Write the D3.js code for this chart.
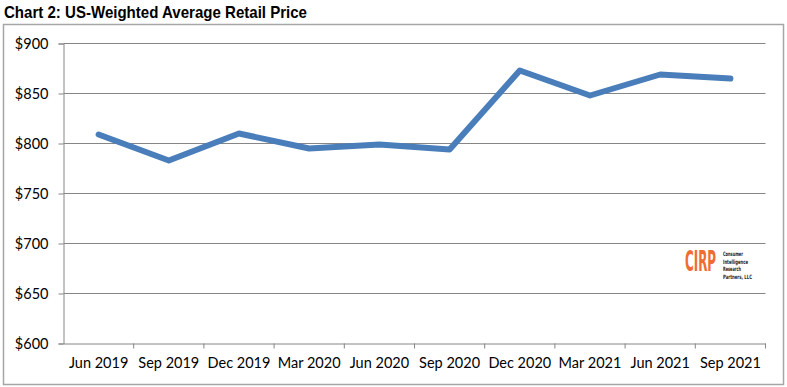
<!DOCTYPE html>
<html>
<head>
<meta charset="utf-8">
<script src="https://cdn.jsdelivr.net/npm/d3@7"></script>
<style>
  body { margin: 0; background: #fff; }
  svg { display: block; }
</style>
</head>
<body>
<div id="chart"></div>
<script>
// Data
const quarters = ["Jun 2019", "Sep 2019", "Dec 2019", "Mar 2020", "Jun 2020",
  "Sep 2020", "Dec 2020", "Mar 2021", "Jun 2021", "Sep 2021"];
const avgPrice = [809, 783, 810, 795, 799, 794, 873, 848, 869, 865];
const priceTicks = [600, 650, 700, 750, 800, 850, 900];

const width = 787, height = 387;
const margin = { left: 63.5, top: 43.5, right: 21.5, bottom: 43.5 };

const chart = d3.select("#chart").append("svg")
  .attr("width", width)
  .attr("height", height);

//#region Title and frame
chart.append("text")
  .text("Chart 2: US-Weighted Average Retail Price")
  .attr("x", 4)
  .attr("y", 18)
  .attr("textLength", 303)
  .attr("lengthAdjust", "spacingAndGlyphs")
  .style("font-family", "'Liberation Sans Narrow', 'Arial Narrow', 'Liberation Sans', sans-serif")
  .style("font-weight", "bold")
  .style("font-size", "17px")
  .style("fill", "#000");

chart.append("rect")
  .attr("x", 3.5).attr("y", 24.5)
  .attr("width", 780).attr("height", 360)
  .style("fill", "none")
  .style("stroke", "#a6a6a6")
  .style("stroke-width", 1.5);
//#endregion

//#region Scales
const scaleX = d3.scaleBand()
  .domain(quarters)
  .range([margin.left, width - margin.right]);
const scaleY = d3.scaleLinear()
  .domain([600, 900])
  .range([height - margin.bottom, margin.top]);
//#endregion

//#region Grid + axes
chart.append("g")
  .selectAll("line")
  .data(priceTicks.slice(1))
  .enter()
  .append("line")
  .attr("x1", margin.left)
  .attr("x2", width - margin.right)
  .attr("y1", d => scaleY(d))
  .attr("y2", d => scaleY(d))
  .style("stroke", "#868686")
  .style("stroke-width", 1);

const axisX = d3.axisBottom(scaleX).tickSize(0).tickPadding(14);
const axisY = d3.axisLeft(scaleY).tickValues(priceTicks).tickSize(5).tickPadding(10)
  .tickFormat(d => "$" + d);

const gx = chart.append("g")
  .attr("transform", `translate(0,${height - margin.bottom})`)
  .call(axisX);
gx.select(".domain").style("stroke", "#868686");
gx.selectAll("text")
  .style("font-family", "Lato, 'Open Sans', sans-serif")
  .style("font-size", "14.5px")
  .style("fill", "#000");
// category boundary ticks, Excel style
gx.append("g")
  .selectAll("line")
  .data(quarters)
  .enter()
  .append("line")
  .attr("x1", d => scaleX(d) + scaleX.bandwidth())
  .attr("x2", d => scaleX(d) + scaleX.bandwidth())
  .attr("y1", 0)
  .attr("y2", 5)
  .style("stroke", "#868686");

const gy = chart.append("g")
  .attr("transform", `translate(${margin.left},0)`)
  .call(axisY);
gy.selectAll("path, line").style("stroke", "#868686");
gy.selectAll("text")
  .style("font-family", "Lato, 'Open Sans', sans-serif")
  .style("font-size", "14.5px")
  .style("fill", "#000");
//#endregion

//#region Line
const line = d3.line()
  .x((d, i) => scaleX(quarters[i]) + scaleX.bandwidth() / 2)
  .y(d => scaleY(d));

chart.append("path")
  .datum(avgPrice)
  .attr("d", line)
  .style("fill", "none")
  .style("stroke", "#4a7ebb")
  .style("stroke-width", 6)
  .style("stroke-linejoin", "round")
  .style("stroke-linecap", "round");
//#endregion

//#region Logo
const logo = chart.append("g").attr("transform", "translate(685, 271)");
logo.append("text")
  .text("CIRP")
  .attr("textLength", 31)
  .attr("lengthAdjust", "spacingAndGlyphs")
  .style("font-family", "'DejaVu Sans Condensed', 'Liberation Sans', sans-serif")
  .style("font-weight", "bold")
  .style("font-size", "27.5px")
  .style("fill", "#ef6c33");
// company name as one text block, one tspan per line
const logoLines = ["Consumer", "Intelligence", "Research", "Partners, LLC"];
logo.append("text")
  .attr("x", 38)
  .attr("y", -15)
  .style("font-family", "'DejaVu Sans Condensed', sans-serif")
  .style("font-weight", "bold")
  .style("font-size", "6px")
  .style("fill", "#222")
  .selectAll("tspan")
  .data(logoLines)
  .enter()
  .append("tspan")
  .attr("x", 38)
  .attr("dy", (d, i) => (i === 0 ? 0 : 7.7))
  .attr("textLength", (d, i) => [20, 25, 18, 29][i])
  .attr("lengthAdjust", "spacingAndGlyphs")
  .text(d => d);
//#endregion
</script>
</body>
</html>
